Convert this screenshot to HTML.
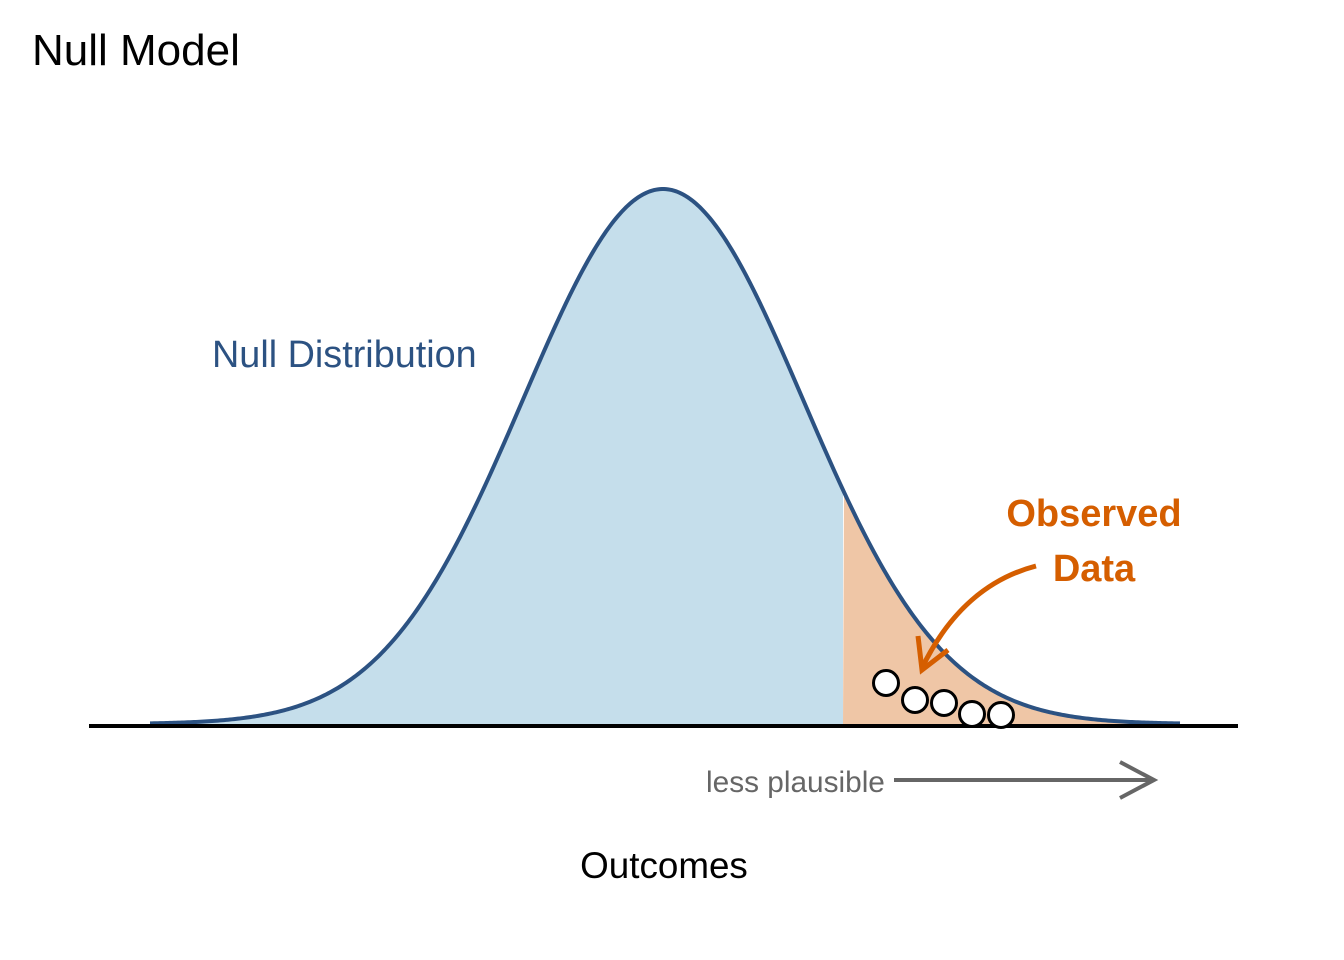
<!DOCTYPE html>
<html><head><meta charset="utf-8"><style>
html,body{margin:0;padding:0;background:#fff;}
svg{display:block;font-family:"Liberation Sans",Arial,sans-serif;}
</style></head><body>
<svg id="s" width="1344" height="960" viewBox="0 0 1344 960">
<text x="32" y="65" font-size="44" fill="#000">Null Model</text>
<path id="fb" fill="#c5deeb"/>
<path id="fo" fill="#efc6a6"/>
<path id="cv" fill="none" stroke="#2c5282" stroke-width="4"/>
<line x1="89" y1="726" x2="1238" y2="726" stroke="#000" stroke-width="4"/>
<text x="212" y="367" font-size="37.8" fill="#2c5282">Null Distribution</text>
<text x="1094" y="526" font-size="38" font-weight="bold" fill="#d55e00" text-anchor="middle">Observed</text>
<text x="1094" y="581" font-size="38" font-weight="bold" fill="#d55e00" text-anchor="middle">Data</text>
<path d="M1036,566 C990,578 950,610 922,668" fill="none" stroke="#d55e00" stroke-width="5"/>
<path d="M918,636 L922,670 L948,650" fill="none" stroke="#d55e00" stroke-width="5"/>
<g fill="#fff" stroke="#000" stroke-width="3">
<circle cx="886" cy="683" r="12.5"/><circle cx="915" cy="700" r="12.5"/><circle cx="944" cy="703" r="12.5"/><circle cx="972" cy="714" r="12.5"/><circle cx="1001" cy="715" r="12.5"/>
</g>
<text x="706" y="792" font-size="29.8" fill="#666">less plausible</text>
<line x1="894" y1="780" x2="1152" y2="780" stroke="#666" stroke-width="4"/>
<path d="M1120,762 L1154,780 L1120,798" fill="none" stroke="#666" stroke-width="4"/>
<text x="664" y="878" font-size="36.8" fill="#000" text-anchor="middle">Outcomes</text>
</svg>
<script>
var mu=663,sd=140,base=724,h=535;
function y(x){return base-h*Math.exp(-0.5*Math.pow((x-mu)/sd,2));}
var c="",fb="M150,"+base,fo="M843,"+base;
for(var x=150;x<=1180;x+=2){var p=x+","+y(x).toFixed(2);c+=(x==150?"M":"L")+p;if(x<=843)fb+="L"+p;if(x>=843)fo+="L"+p;}
fb+="L843,"+y(843).toFixed(2)+"L843,"+base+"Z";fo+="L1180,"+base+"Z";
document.getElementById("cv").setAttribute("d",c);
document.getElementById("fb").setAttribute("d",fb);
document.getElementById("fo").setAttribute("d",fo);
</script>
</body></html>
